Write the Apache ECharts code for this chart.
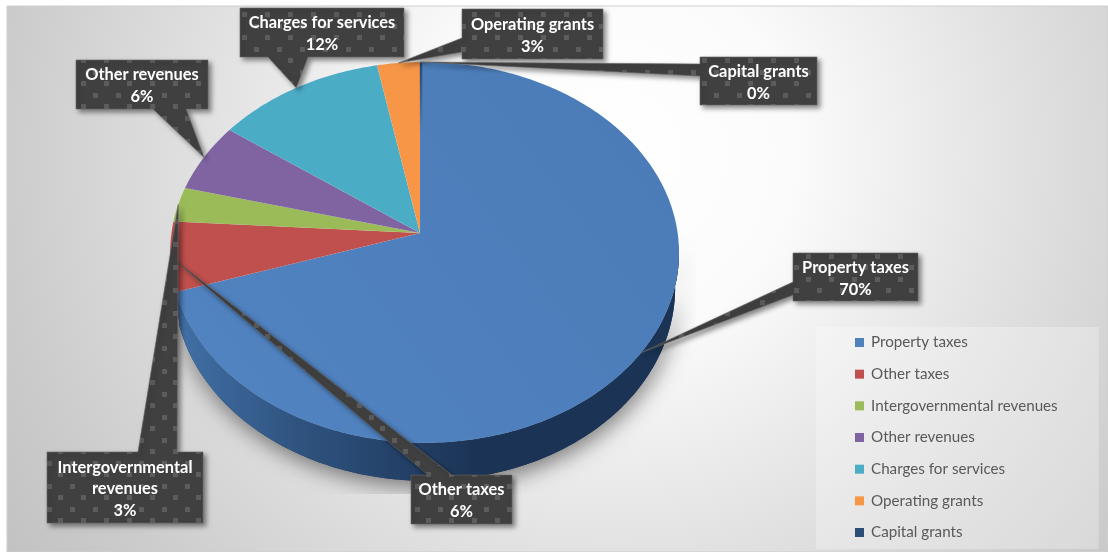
<!DOCTYPE html>
<html>
<head>
<meta charset="utf-8">
<style>html,body{margin:0;padding:0;background:#fff}#chart{width:1108px;height:552px}</style>
<script src="https://cdn.jsdelivr.net/npm/echarts@6/dist/echarts.min.js"></script>
</head>
<body>
<div id="chart"></div>
<script>
// Revenue sources, percent of total
const categories = ['Property taxes', 'Other taxes', 'Intergovernmental revenues', 'Other revenues', 'Charges for services', 'Operating grants', 'Capital grants'];
const shares = [70, 6, 3, 6, 12, 3, 0];
const sliceColors = ['#4F81BD', '#C0504D', '#9BBB59', '#8064A2', '#4BACC6', '#F79646', '#2C4D75'];

// Callout boxes [left, top, width, height], attached side and the pointer's base span on that side
const calloutBoxes = [
  { box: [793, 253, 125, 48], side: 'left', base: [282, 295], lines: ['Property taxes'] },
  { box: [411, 475, 101, 49], side: 'top', base: [428, 452], lines: ['Other taxes'] },
  { box: [47, 452, 156, 71], side: 'top', base: [138, 177], lines: ['Intergovernmental', 'revenues'] },
  { box: [76, 60, 132, 49], side: 'bottom', base: [153, 186], lines: ['Other revenues'] },
  { box: [240, 8, 164, 49], side: 'bottom', base: [268, 308], lines: ['Charges for services'] },
  { box: [462, 9, 141, 50], side: 'left', base: [38, 52], lines: ['Operating grants'] },
  { box: [700, 57, 117, 48], side: 'left', base: [64, 76], lines: ['Capital grants'] }
];

// Tilted-disc projection: the pie's polar circle is mapped onto the plane of the disc
const CX = 420, CY = 233, POLAR_R = 100;
const ACROSS = 253, DEEP = 188.4, K_DEPTH = 0.102, K_SIDE = 0.018;
const THICKNESS = 34, LOWER_SHRINK = 0.985;

function project(api, pct, depth) {
  const p = api.coord([1, pct]);
  const u = (p[0] - CX) / POLAR_R;
  const v = (CY - p[1]) / POLAR_R;
  const w = 1 + K_DEPTH * v - K_SIDE * u;
  const x = ACROSS * u / w;
  const y = -DEEP * v / w;
  return depth
    ? [CX + x * LOWER_SHRINK, CY + y + THICKNESS / w]
    : [CX + x, CY + y];
}

function arc(api, from, to, depth) {
  const pts = [];
  const steps = Math.max(1, Math.ceil(Math.abs(to - from) * 4));
  for (let i = 0; i <= steps; i++) pts.push(project(api, from + (to - from) * i / steps, depth));
  return pts;
}

const cumulative = [];
shares.reduce((sum, s, i) => (cumulative[i] = sum + s), 0);

function sliceRenderer(idx) {
  return function (params, api) {
    const end = cumulative[idx];
    const start = end - api.value(1);
    const apex = [CX, CY];
    if (start === end) {
      // A share that rounds to nothing still shows as a hairline on the disc
      const rim = project(api, end, false);
      return {
        type: 'polyline', z2: 5,
        shape: { points: [[rim[0] + 1, apex[1] - 100], [rim[0] + 1, rim[1] + 1]] },
        style: {
          fill: 'none', lineWidth: 2.5,
          stroke: new echarts.graphic.LinearGradient(0, rim[1], 0, apex[1] - 100, [
            { offset: 0, color: 'rgba(38,70,112,0.95)' },
            { offset: 1, color: 'rgba(38,70,112,0)' }
          ], true)
        }
      };
    }
    return {
      type: 'polygon',
      shape: { points: [apex].concat(arc(api, start, end, false)) },
      style: {
        fill: idx === 0
          ? new echarts.graphic.LinearGradient(175, 440, 680, 60, [
              { offset: 0, color: '#5284C2' },
              { offset: 1, color: '#4A7BB7' }
            ], true)
          : api.visual('color'),
        stroke: 'rgba(255,255,255,0.05)', lineWidth: 0.5
      }
    };
  };
}

function renderDiscSide(params, api) {
  const hull = arc(api, 26, 70, false).concat(arc(api, 70, 26, true));
  return {
    type: 'group',
    children: [
      {
        type: 'group',
        // The drop shadow stops at the edges of the plot area
        clipPath: { type: 'rect', shape: { x: 8, y: 7, width: 688, height: 487 } },
        children: [{
          type: 'polygon',
          shape: { points: hull },
          style: {
            fill: '#1c3557',
            shadowBlur: 22, shadowColor: 'rgba(0,0,0,0.5)', shadowOffsetX: 2, shadowOffsetY: 6
          }
        }]
      },
      {
        type: 'polygon',
        shape: { points: hull },
        style: {
          fill: new echarts.graphic.LinearGradient(178, 0, 480, 0, [
            { offset: 0, color: '#416fa6' },
            { offset: 0.4, color: '#2f537f' },
            { offset: 1, color: '#1b3355' }
          ], true)
        }
      }
    ]
  };
}

// Tile for the callout fill: dark ground with a staggered grid of paler squares
function makeCalloutTile() {
  const c = document.createElement('canvas');
  c.width = 23; c.height = 23;
  const g = c.getContext('2d');
  g.fillStyle = '#404040';
  g.fillRect(0, 0, 23, 23);
  g.fillStyle = '#5c5c5c';
  g.fillRect(1, 1, 5, 5);
  g.fillRect(12, 12, 5, 5);
  return c;
}
const calloutTile = makeCalloutTile();

function renderCallout(params, api) {
  const idx = params.dataIndex;
  const cfg = calloutBoxes[idx];
  const [x, y, w, h] = cfg.box;
  const share = api.value(1);
  const tip = project(api, cumulative[idx] - share / 2, false);
  const [a, b] = cfg.base;
  let pts;
  if (cfg.side === 'bottom') {
    pts = [[x, y], [x + w, y], [x + w, y + h], [b, y + h], tip, [a, y + h], [x, y + h]];
  } else if (cfg.side === 'top') {
    pts = [[x, y], [a, y], tip, [b, y], [x + w, y], [x + w, y + h], [x, y + h]];
  } else {
    pts = [[x, y], [x + w, y], [x + w, y + h], [x, y + h], [x, b], tip, [x, a]];
  }
  const lines = cfg.lines.concat([share + '%']);
  const lineGap = 21.7;
  const firstY = y + h / 2 - (lines.length - 1) * lineGap / 2 + 1.5;
  return {
    type: 'group',
    children: [{
      type: 'polygon',
      shape: { points: pts },
      style: {
        fill: { image: calloutTile, repeat: 'repeat' },
        stroke: '#666', lineWidth: 0.6,
        shadowBlur: 5, shadowColor: 'rgba(0,0,0,0.45)', shadowOffsetX: 3, shadowOffsetY: 3
      }
    }].concat(lines.map((text, i) => ({
      type: 'text',
      style: {
        text, x: x + w / 2, y: firstY + i * lineGap,
        fill: '#fff', font: 'bold 16.4px Lato, sans-serif',
        align: 'center', verticalAlign: 'middle'
      }
    })))
  };
}

const sliceSeries = categories.map((name, i) => ({
  name,
  type: 'custom',
  coordinateSystem: 'polar',
  z: 3,
  silent: true,
  itemStyle: { color: sliceColors[i] },
  encode: { radius: 0, angle: 1 },
  data: [[1, shares[i]]],
  renderItem: sliceRenderer(i)
}));

const option = {
  animation: false,
  graphic: [
    {
      type: 'rect', z: -2, silent: true,
      shape: { x: 7, y: 6, width: 1101, height: 546 },
      style: {
        fill: new echarts.graphic.RadialGradient(0.55, 0.27, 1.33, [
          { offset: 0, color: '#ffffff' },
          { offset: 0.25, color: '#fbfbfb' },
          { offset: 0.55, color: '#e2e2e2' },
          { offset: 0.85, color: '#cbcbcb' },
          { offset: 1, color: '#c2c2c2' }
        ]),
        stroke: '#cfcfcf', lineWidth: 1
      }
    }
  ],
  polar: { center: [CX, CY], radius: POLAR_R },
  angleAxis: { show: false, type: 'value', min: 0, max: 100, startAngle: 90, clockwise: true },
  radiusAxis: { show: false, type: 'value', min: 0, max: 1 },
  legend: {
    data: categories,
    orient: 'vertical',
    left: 816, top: 327,
    icon: 'rect',
    itemWidth: 9, itemHeight: 9,
    itemGap: 14.67,
    padding: [7, 41, 8, 39],
    selectedMode: false,
    backgroundColor: 'rgba(255,255,255,0.28)',
    textStyle: { color: '#595959', fontFamily: 'Lato, sans-serif', fontSize: 15.2, padding: [0, 0, 0, 2], height: 17, lineHeight: 17 }
  },
  series: [
    {
      name: 'disc side', type: 'custom', coordinateSystem: 'polar', z: 2, silent: true,
      encode: { radius: 0, angle: 1 }, data: [[1, 100]], renderItem: renderDiscSide
    }
  ].concat(sliceSeries, [
    {
      name: 'callouts', type: 'custom', coordinateSystem: 'polar', z: 4, silent: true,
      encode: { radius: 0, angle: 1 },
      data: shares.map(s => [1, s]),
      renderItem: renderCallout
    }
  ])
};

const chart = echarts.init(document.getElementById('chart'));
chart.setOption(option);
</script>
</body>
</html>
